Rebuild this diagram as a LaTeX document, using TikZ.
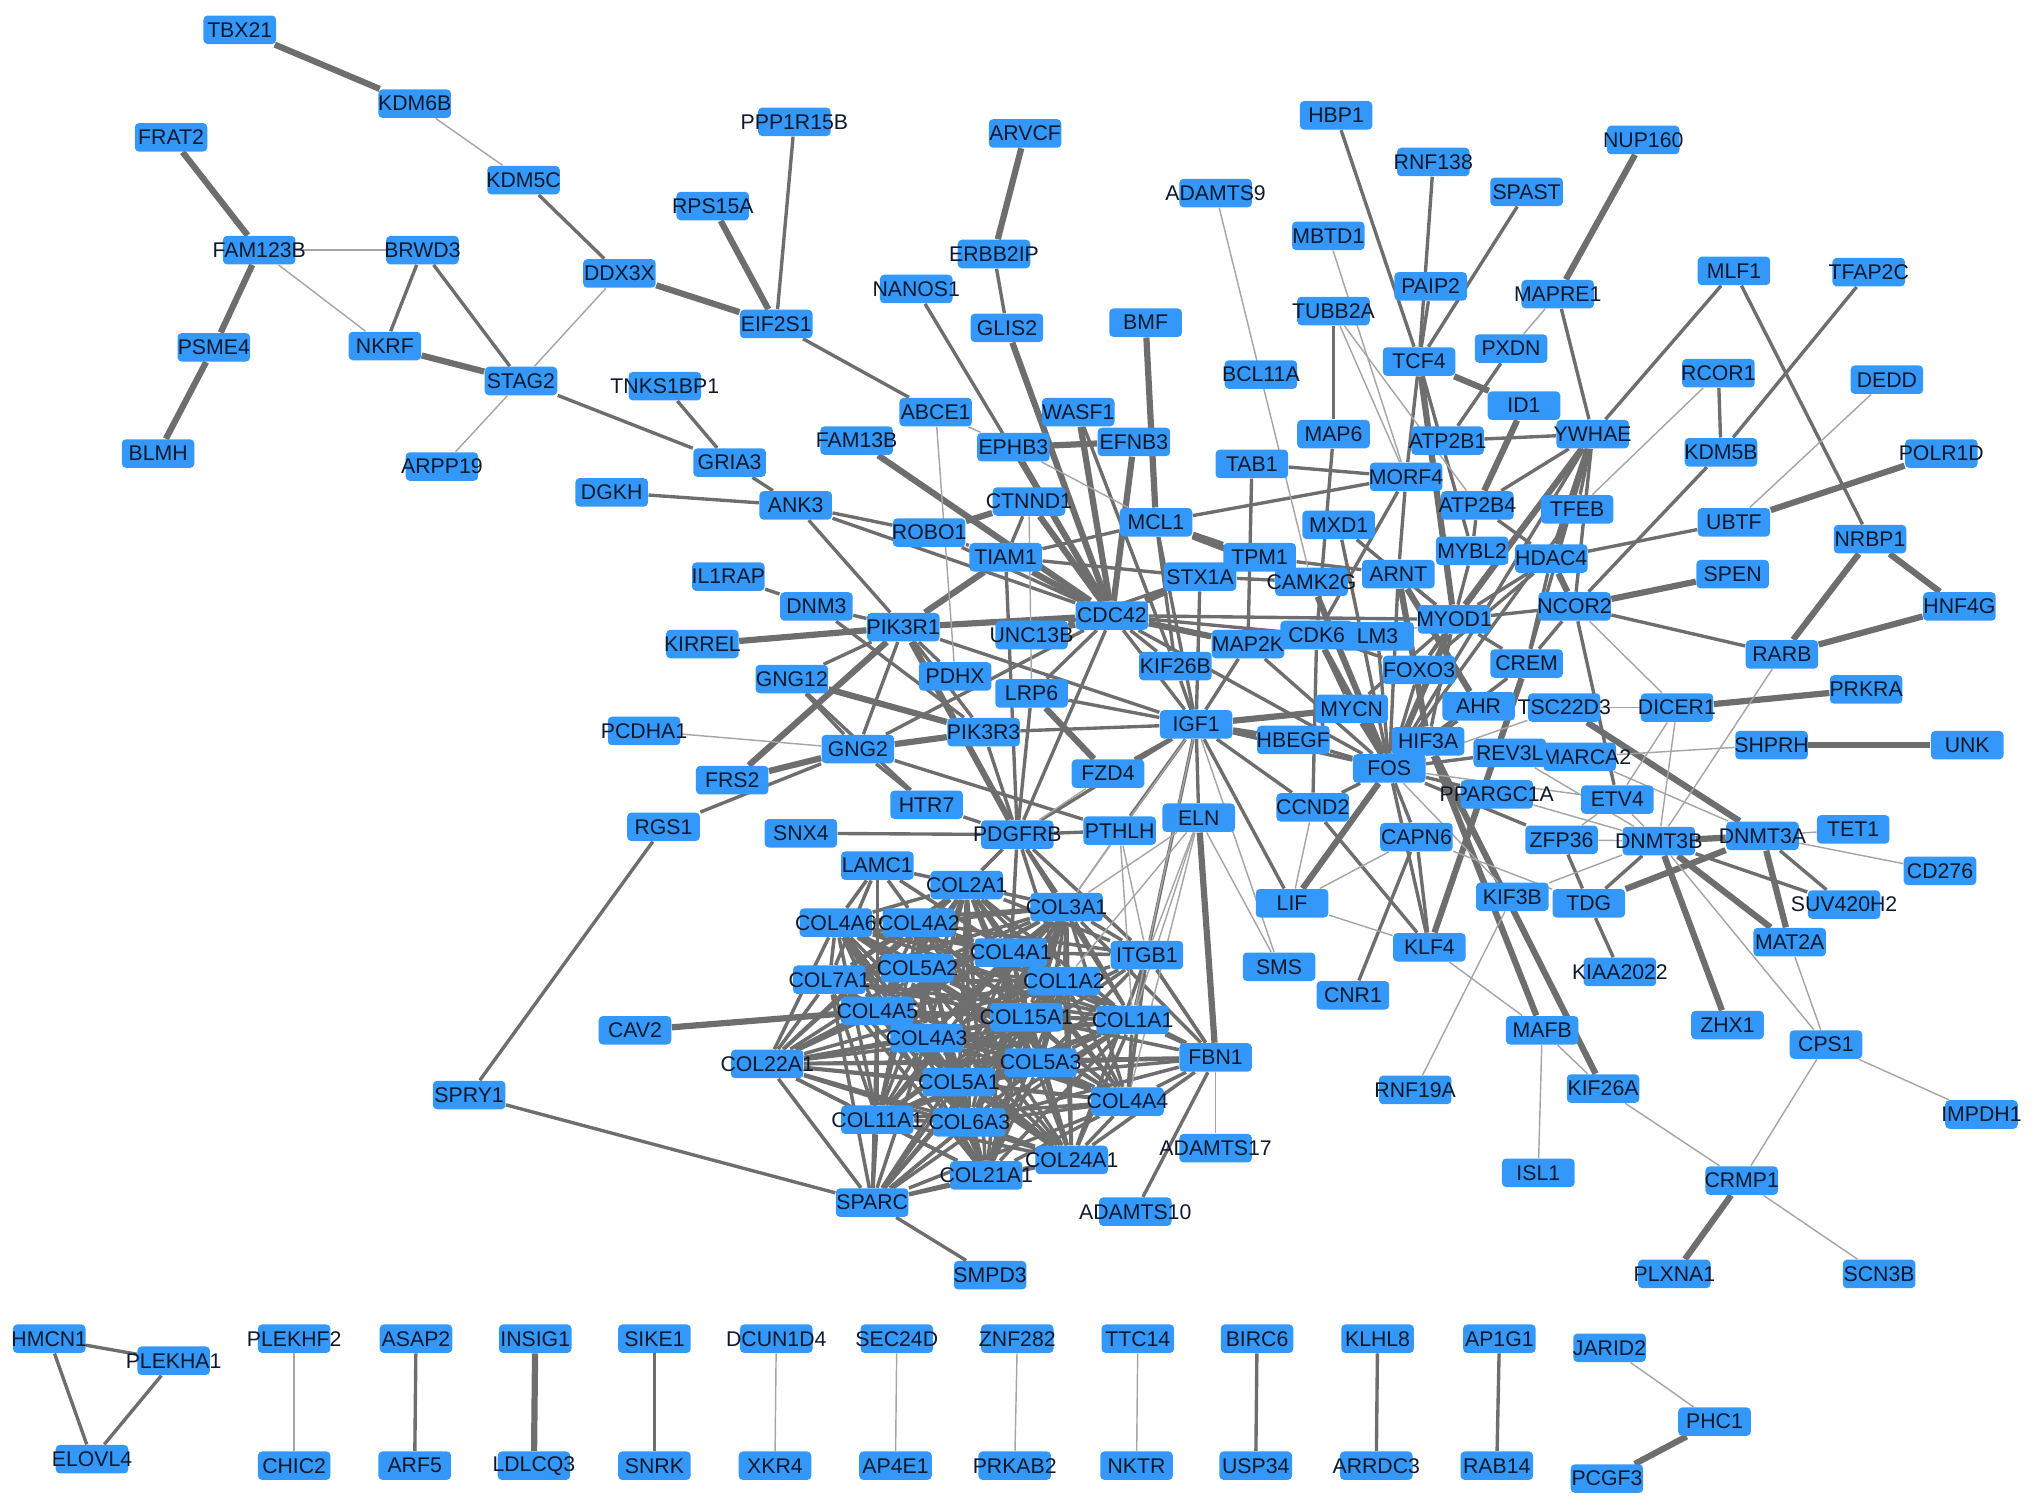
\documentclass[tikz,border=0pt]{standalone}
\usepackage{fontspec}
\setmainfont{Liberation Sans}
\pgfdeclarelayer{edges}
\pgfsetlayers{edges,main}
\definecolor{nodeblue}{RGB}{52,152,250}
\definecolor{nodetext}{RGB}{15,25,45}
\definecolor{edgegray}{RGB}{110,110,110}
\definecolor{edgelight}{RGB}{165,165,165}
\tikzset{
  nb/.style={rectangle, rounded corners=1.6pt, fill=nodeblue, minimum width=28pt, minimum height=11pt, inner sep=0pt, text=nodetext, font=\fontsize{8.2}{9}\selectfont},
  e1/.style={draw=edgelight, line width=0.55pt},
  e2/.style={draw=edgegray, line width=1.3pt},
  e3/.style={draw=edgegray, line width=2.4pt},
  ec/.style={draw=edgegray, line width=1.35pt}
}
\newcommand{\gnode}[3]{\node[nb] (#3) at (#1,#2) {\makebox[25pt]{#3}};}
\begin{document}
\begin{tikzpicture}[x=0.5pt,y=-0.5pt]
\useasboundingbox (0,0) rectangle (1568,1166);
% ---- nodes
\gnode{185}{23}{TBX21}
\gnode{320}{80}{KDM6B}
\gnode{132}{106}{FRAT2}
\gnode{404}{139}{KDM5C}
\gnode{200}{193}{FAM123B}
\gnode{326}{193}{BRWD3}
\gnode{478}{211}{DDX3X}
\gnode{165}{268}{PSME4}
\gnode{297}{267}{NKRF}
\gnode{402}{294}{STAG2}
\gnode{513}{298}{TNKS1BP1}
\gnode{122}{350}{BLMH}
\gnode{341}{360}{ARPP19}
\gnode{563}{357}{GRIA3}
\gnode{472}{380}{DGKH}
\gnode{613}{94}{PPP1R15B}
\gnode{550}{159}{RPS15A}
\gnode{599}{250}{EIF2S1}
\gnode{791}{103}{ARVCF}
\gnode{767}{196}{ERBB2IP}
\gnode{707}{223}{NANOS1}
\gnode{777}{253}{GLIS2}
\gnode{884}{249}{BMF}
\gnode{938}{149}{ADAMTS9}
\gnode{1031}{89}{HBP1}
\gnode{1106}{125}{RNF138}
\gnode{1178}{148}{SPAST}
\gnode{1268}{108}{NUP160}
\gnode{1025}{182}{MBTD1}
\gnode{1104}{221}{PAIP2}
\gnode{1202}{227}{MAPRE1}
\gnode{1338}{209}{MLF1}
\gnode{1442}{210}{TFAP2C}
\gnode{1029}{240}{TUBB2A}
\gnode{1166}{269}{PXDN}
\gnode{1095}{279}{TCF4}
\gnode{973}{289}{BCL11A}
\gnode{1326}{288}{RCOR1}
\gnode{1456}{293}{DEDD}
\gnode{1176}{313}{ID1}
\gnode{722}{318}{ABCE1}
\gnode{832}{318}{WASF1}
\gnode{661}{340}{FAM13B}
\gnode{782}{345}{EPHB3}
\gnode{875}{341}{EFNB3}
\gnode{1029}{335}{MAP6}
\gnode{1117}{340}{ATP2B1}
\gnode{1229}{335}{YWHAE}
\gnode{1328}{349}{KDM5B}
\gnode{1498}{350}{POLR1D}
\gnode{966}{358}{TAB1}
\gnode{1085}{368}{MORF4}
\gnode{614}{390}{ANK3}
\gnode{794}{387}{CTNND1}
\gnode{1140}{390}{ATP2B4}
\gnode{1217}{393}{TFEB}
\gnode{892}{403}{MCL1}
\gnode{1033}{405}{MXD1}
\gnode{1338}{403}{UBTF}
\gnode{1443}{416}{NRBP1}
\gnode{717}{411}{ROBO1}
\gnode{776}{430}{TIAM1}
\gnode{972}{430}{TPM1}
\gnode{1136}{425}{MYBL2}
\gnode{1197}{431}{HDAC4}
\gnode{1337}{443}{SPEN}
\gnode{562}{445}{IL1RAP}
\gnode{926}{445}{STX1A}
\gnode{1012}{449}{CAMK2G}
\gnode{1079}{443}{ARNT}
\gnode{630}{468}{DNM3}
\gnode{1215}{468}{NCOR2}
\gnode{1512}{468}{HNF4G}
\gnode{858}{475}{CDC42}
\gnode{1122}{478}{MYOD1}
\gnode{697}{484}{PIK3R1}
\gnode{796}{490}{UNC13B}
\gnode{542}{497}{KIRREL}
\gnode{963}{497}{MAP2K}
\gnode{1063}{491}{LM3}
\gnode{1016}{490}{CDK6}
\gnode{1375}{505}{RARB}
\gnode{907}{514}{KIF26B}
\gnode{1178}{512}{CREM}
\gnode{1095}{517}{FOXO3}
\gnode{737}{522}{PDHX}
\gnode{611}{524}{GNG12}
\gnode{1440}{532}{PRKRA}
\gnode{796}{535}{LRP6}
\gnode{1043}{547}{MYCN}
\gnode{1141}{545}{AHR}
\gnode{1207}{546}{TSC22D3}
\gnode{1294}{546}{DICER1}
\gnode{923}{559}{IGF1}
\gnode{497}{564}{PCDHA1}
\gnode{759}{565}{PIK3R3}
\gnode{998}{571}{HBEGF}
\gnode{1102}{572}{HIF3A}
\gnode{1367}{575}{SHPRH}
\gnode{1518}{575}{UNK}
\gnode{662}{578}{GNG2}
\gnode{1219}{584}{SMARCA2}
\gnode{1165}{581}{REV3L}
\gnode{1072}{593}{FOS}
\gnode{855}{597}{FZD4}
\gnode{565}{602}{FRS2}
\gnode{1155}{613}{PPARGC1A}
\gnode{1248}{617}{ETV4}
\gnode{715}{621}{HTR7}
\gnode{1013}{623}{CCND2}
\gnode{925}{631}{ELN}
\gnode{618}{643}{SNX4}
\gnode{785}{644}{PDGFRB}
\gnode{864}{641}{PTHLH}
\gnode{512}{638}{RGS1}
\gnode{1430}{640}{TET1}
\gnode{1360}{645}{DNMT3A}
\gnode{1280}{649}{DNMT3B}
\gnode{1205}{648}{ZFP36}
\gnode{1093}{646}{CAPN6}
\gnode{1497}{672}{CD276}
\gnode{677}{668}{LAMC1}
\gnode{746}{683}{COL2A1}
\gnode{1423}{698}{SUV420H2}
\gnode{1226}{697}{TDG}
\gnode{1167}{692}{KIF3B}
\gnode{997}{697}{LIF}
\gnode{823}{700}{COL3A1}
\gnode{645}{712}{COL4A6}
\gnode{709}{712}{COL4A2}
\gnode{1381}{727}{MAT2A}
\gnode{1103}{731}{KLF4}
\gnode{885}{737}{ITGB1}
\gnode{780}{735}{COL4A1}
\gnode{708}{747}{COL5A2}
\gnode{987}{746}{SMS}
\gnode{1250}{750}{KIAA2022}
\gnode{821}{757}{COL1A2}
\gnode{640}{756}{COL7A1}
\gnode{1044}{768}{CNR1}
\gnode{677}{780}{COL4A5}
\gnode{792}{785}{COL15A1}
\gnode{874}{787}{COL1A1}
\gnode{1333}{791}{ZHX1}
\gnode{1190}{795}{MAFB}
\gnode{490}{795}{CAV2}
\gnode{715}{801}{COL4A3}
\gnode{1409}{806}{CPS1}
\gnode{938}{816}{FBN1}
\gnode{592}{821}{COL22A1}
\gnode{803}{820}{COL5A3}
\gnode{740}{835}{COL5A1}
\gnode{1092}{841}{RNF19A}
\gnode{1237}{840}{KIF26A}
\gnode{362}{845}{SPRY1}
\gnode{870}{850}{COL4A4}
\gnode{1529}{860}{IMPDH1}
\gnode{677}{864}{COL11A1}
\gnode{748}{866}{COL6A3}
\gnode{938}{886}{ADAMTS17}
\gnode{827}{895}{COL24A1}
\gnode{1187}{905}{ISL1}
\gnode{761}{907}{COL21A1}
\gnode{1344}{911}{CRMP1}
\gnode{673}{928}{SPARC}
\gnode{876}{935}{ADAMTS10}
\gnode{764}{984}{SMPD3}
\gnode{1292}{983}{PLXNA1}
\gnode{1450}{983}{SCN3B}
% bottom row
\gnode{38}{1033}{HMCN1}
\gnode{134}{1050}{PLEKHA1}
\gnode{71}{1126}{ELOVL4}
\gnode{227}{1033}{PLEKHF2}
\gnode{227}{1131}{CHIC2}
\gnode{321}{1033}{ASAP2}
\gnode{320}{1131}{ARF5}
\gnode{413}{1033}{INSIG1}
\gnode{412}{1131}{LDLCQ3}
\gnode{505}{1033}{SIKE1}
\gnode{505}{1131}{SNRK}
\gnode{599}{1033}{DCUN1D4}
\gnode{598}{1131}{XKR4}
\gnode{692}{1033}{SEC24D}
\gnode{691}{1131}{AP4E1}
\gnode{785}{1033}{ZNF282}
\gnode{783}{1131}{PRKAB2}
\gnode{878}{1033}{TTC14}
\gnode{877}{1131}{NKTR}
\gnode{970}{1033}{BIRC6}
\gnode{969}{1131}{USP34}
\gnode{1063}{1033}{KLHL8}
\gnode{1062}{1131}{ARRDC3}
\gnode{1157}{1033}{AP1G1}
\gnode{1155}{1131}{RAB14}
\gnode{1242}{1040}{JARID2}
\gnode{1323}{1097}{PHC1}
\gnode{1240}{1141}{PCGF3}
% ---- edges
\begin{pgfonlayer}{edges}
\def\collist{COL2A1,COL3A1,COL4A6,COL4A2,COL4A1,COL5A2,COL1A2,COL7A1,COL4A5,COL15A1,COL1A1,COL4A3,COL22A1,COL5A3,COL5A1,COL4A4,COL11A1,COL6A3,COL24A1,COL21A1}
\foreach \a [count=\i] in \collist {
  \foreach \b [count=\j] in \collist {
    \ifnum\i<\j\relax \draw[ec] (\a) -- (\b); \fi
  }
}
\foreach \a/\b in {SPARC/COL11A1,SPARC/COL6A3,SPARC/COL21A1,SPARC/COL22A1,SPARC/COL4A5,SPARC/COL7A1,SPARC/COL5A1,SPARC/COL24A1,SPARC/COL4A4,SPARC/COL1A1,SPARC/COL15A1,SPARC/COL4A3,SPARC/COL1A2,SPARC/COL3A1,SPARC/COL5A3,
  FBN1/COL1A1,FBN1/COL1A2,FBN1/COL4A4,FBN1/COL5A3,FBN1/COL15A1,FBN1/COL24A1,FBN1/COL22A1,FBN1/COL3A1,FBN1/ITGB1,FBN1/COL5A1,FBN1/COL6A3,
  ITGB1/COL1A1,ITGB1/COL1A2,ITGB1/COL3A1,ITGB1/COL4A1,ITGB1/COL5A3,ITGB1/COL4A4,ITGB1/COL15A1,ITGB1/COL24A1,ITGB1/COL2A1,ITGB1/COL5A1,ITGB1/COL4A2,
  LAMC1/COL2A1,LAMC1/COL4A2,LAMC1/COL4A1,LAMC1/COL4A6,LAMC1/COL4A5,LAMC1/COL7A1,
  PDGFRB/COL2A1,PDGFRB/COL3A1,PDGFRB/COL4A1,PDGFRB/COL1A2,PDGFRB/COL1A1,PDGFRB/ITGB1}
  \draw[ec] (\a) -- (\b);
\foreach \a/\b in {TBX21/KDM6B,FRAT2/FAM123B,FAM123B/PSME4,PSME4/BLMH,DDX3X/EIF2S1,RPS15A/EIF2S1,ARVCF/ERBB2IP,NUP160/MAPRE1,TCF4/ID1,ID1/ATP2B4,
  POLR1D/UBTF,SPEN/NCOR2,NRBP1/RARB,NRBP1/HNF4G,RARB/HNF4G,DICER1/PRKRA,SHPRH/UNK,DNMT3B/DNMT3A,DNMT3A/MAT2A,DNMT3B/MAT2A,DNMT3B/ZHX1,DNMT3A/TDG,
  CRMP1/PLXNA1,PHC1/PCGF3,KIRREL/PIK3R1,PIK3R1/CDC42,PIK3R1/TIAM1,FRS2/PIK3R1,FRS2/GNG2,GNG12/PIK3R3,GNG2/PIK3R3,ROBO1/CTNND1,EPHB3/EFNB3,EPHB3/CDC42,
  CTNND1/CDC42,WASF1/CDC42,EFNB3/CDC42,TIAM1/CDC42,UNC13B/CDC42,CDC42/STX1A,CDC42/MAP2K,MCL1/TPM1,MCL1/CAMK2G,LRP6/FZD4,IGF1/HBEGF,IGF1/MYCN,ELN/FBN1,
  FOS/CDK6,FOS/MYOD1,FOS/LIF,CAMK2G/FOS,HIF3A/MAFB,HIF3A/KIF26A,ARNT/HIF3A,AHR/ARNT,YWHAE/HDAC4,YWHAE/MYOD1,NCOR2/HDAC4,TCF4/MYOD1,TSC22D3/DNMT3A,
  CAV2/COL4A5,PIK3R1/PDGFRB,FAM13B/CDC42,INSIG1/LDLCQ3,CREM/KLF4,BMF/MCL1,GLIS2/CDC42,NKRF/STAG2}
  \draw[e3] (\a) -- (\b);
\foreach \a/\b in {KDM5C/DDX3X,BRWD3/STAG2,BRWD3/NKRF,STAG2/GRIA3,TNKS1BP1/GRIA3,PPP1R15B/EIF2S1,EIF2S1/ABCE1,DGKH/ANK3,GRIA3/ANK3,ERBB2IP/GLIS2,
  NANOS1/CDC42,HBP1/TCF4,RNF138/TCF4,SPAST/TCF4,PAIP2/TCF4,MAPRE1/YWHAE,ATP2B1/YWHAE,YWHAE/MLF1,MLF1/NRBP1,TFAP2C/KDM5B,RCOR1/KDM5B,KDM5B/NCOR2,
  UBTF/HDAC4,NCOR2/RARB,DNMT3A/SUV420H2,DNMT3B/SUV420H2,DNMT3B/TDG,TDG/KIAA2022,ZFP36/TDG,CAPN6/KLF4,CCND2/KLF4,CNR1/CAPN6,SPARC/SPRY1,SPARC/SMPD3,
  RGS1/GNG2,ANK3/ROBO1,ANK3/PIK3R1,ANK3/CDC42,IL1RAP/DNM3,DNM3/PIK3R1,DNM3/PIK3R3,GNG12/PIK3R1,GNG12/GNG2,GNG12/HTR7,PIK3R1/GNG2,PIK3R1/PIK3R3,
  PIK3R1/PDHX,PIK3R1/IGF1,GNG2/HTR7,GNG2/PTHLH,GNG2/CDC42,SNX4/PDGFRB,HTR7/PDGFRB,PDGFRB/PIK3R3,PDGFRB/LRP6,PDGFRB/CDC42,PDGFRB/IGF1,PDGFRB/TIAM1,
  PDGFRB/PTHLH,LRP6/CDC42,LRP6/IGF1,UNC13B/STX1A,PIK3R3/IGF1,ROBO1/TIAM1,ROBO1/CDC42,TIAM1/STX1A,CTNND1/TIAM1,MCL1/MORF4,MCL1/KIF26B,MCL1/IGF1,
  TAB1/MAP2K,TAB1/MORF4,MAP6/CDK6,TUBB2A/MAP6,TCF4/MORF4,TCF4/MYBL2,PXDN/ATP2B1,YWHAE/ATP2B4,YWHAE/NCOR2,YWHAE/TFEB,YWHAE/FOXO3,YWHAE/FOS,YWHAE/CREM,
  STX1A/CAMK2G,CDC42/CDK6,CDC42/KIF26B,CDC42/IGF1,CDC42/MYOD1,CDC42/FOS,KIF26B/IGF1,MAP2K/IGF1,IGF1/FOS,IGF1/ELN,IGF1/PTHLH,IGF1/LIF,IGF1/CCND2,
  IGF1/ITGB1,IGF1/FZD4,HBEGF/FOS,HBEGF/MYCN,FOS/ARNT,FOS/HIF3A,FOS/AHR,FOS/FOXO3,FOS/REV3L,FOS/PPARGC1A,FOS/CAPN6,FOS/CCND2,FOS/ZFP36,FOS/MYCN,
  FOS/KLF4,CCND2/CDK6,MYOD1/NCOR2,MYOD1/HDAC4,MYOD1/MYBL2,MYOD1/CREM,MYOD1/HIF3A,MYOD1/FOXO3,MYOD1/ARNT,NCOR2/CREM,NCOR2/ETV4,MORF4/ARNT,MORF4/CDK6,
  TPM1/ARNT,MXD1/MYOD1,MXD1/FOS,HDAC4/FOXO3,HDAC4/CREM,HDAC4/ATP2B4,TFEB/FOS,CREM/FOS,MYCN/CDK6,MYCN/MYOD1,FOXO3/CDK6,ATP2B4/MYBL2,LM3/FOS,
  WASF1/KIF26B,ITGB1/FBN1,FBN1/ADAMTS10,HMCN1/PLEKHA1,HMCN1/ELOVL4,PLEKHA1/ELOVL4,ASAP2/ARF5,SIKE1/SNRK,AP1G1/RAB14,BIRC6/USP34,KLHL8/ARRDC3,
  SPRY1/RGS1,MAP2K/FOS,STX1A/IGF1,TIAM1/MCL1}
  \draw[e2] (\a) -- (\b);
\foreach \a/\b in {KDM6B/KDM5C,FAM123B/BRWD3,FAM123B/NKRF,STAG2/ARPP19,STAG2/DDX3X,ADAMTS9/CAMK2G,MBTD1/MORF4,TUBB2A/MORF4,TUBB2A/ATP2B4,MAPRE1/PXDN,
  RCOR1/TFEB,DEDD/UBTF,RARB/DNMT3B,DICER1/TSC22D3,DICER1/ETV4,DICER1/DNMT3B,NCOR2/DICER1,SHPRH/SMARCA2,DNMT3A/TET1,DNMT3A/CD276,DNMT3B/CPS1,
  DNMT3B/KIF3B,MAT2A/CPS1,CPS1/IMPDH1,CPS1/CRMP1,CRMP1/SCN3B,KIF26A/CRMP1,MAFB/KIF26A,MAFB/ISL1,KIF3B/RNF19A,KLF4/MAFB,LIF/KLF4,LIF/CCND2,LIF/CAPN6,
  FBN1/ADAMTS17,ABCE1/PDHX,ABCE1/EPHB3,EPHB3/MCL1,PCDHA1/GNG2,ELN/SMS,IGF1/SMS,JARID2/PHC1,PLEKHF2/CHIC2,DCUN1D4/XKR4,SEC24D/AP4E1,ZNF282/PRKAB2,
  TTC14/NKTR,REV3L/DNMT3B,FOS/ETV4,ETV4/DNMT3B,ZFP36/DNMT3B,SMARCA2/DNMT3A,ZFP36/ETV4,LM3/MYOD1,CTNND1/LRP6,PDGFRB/FZD4,ELN/COL1A1,ELN/COL1A2,
  ELN/COL3A1,ELN/ITGB1,ELN/COL4A4,IGF1/COL1A1,IGF1/COL3A1,PTHLH/COL1A1,PTHLH/COL3A1,PTHLH/ITGB1,TSC22D3/FOS,PPARGC1A/DNMT3B,TDG/CAPN6,KIF3B/FOS}
  \draw[e1] (\a) -- (\b);
\end{pgfonlayer}
\end{tikzpicture}
\end{document}
